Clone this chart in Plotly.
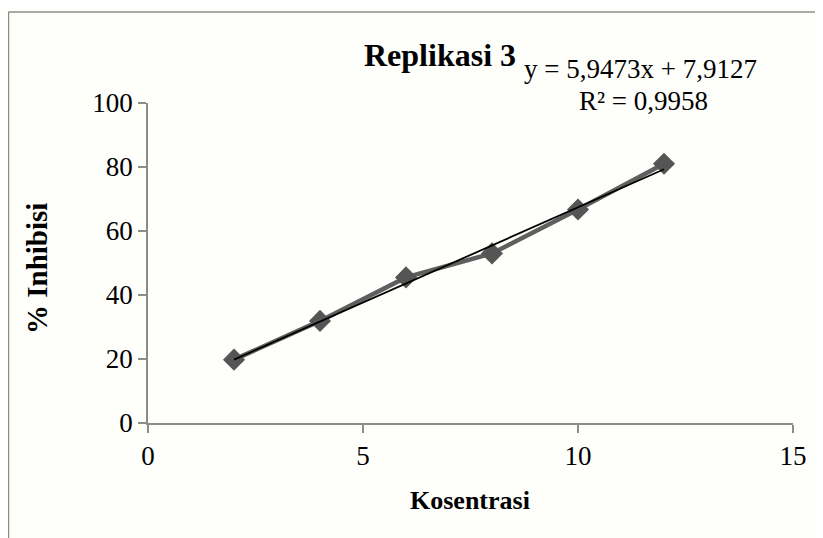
import plotly.graph_objects as go

# Data
kosentrasi = [2, 4, 6, 8, 10, 12]
inhibisi = [19.8, 31.9, 45.5, 53.0, 66.7, 81.0]
slope = 5.9473
intercept = 7.9127
r2_text = "R² = 0,9958"
eq_text = "y = 5,9473x + 7,9127"
x_ticks = [0, 5, 10, 15]
y_ticks = [0, 20, 40, 60, 80, 100]

trend_x = [min(kosentrasi), max(kosentrasi)]
trend_y = [slope * v + intercept for v in trend_x]

FONT = "Liberation Serif, Times New Roman, serif"
AXC = "#8c8c8c"

fig = go.Figure()
fig.add_trace(go.Scatter(
    x=kosentrasi, y=inhibisi, mode="lines+markers",
    line=dict(color="#5f5f5f", width=4.5),
    marker=dict(symbol="diamond", size=17, color="#555555"),
    showlegend=False, hoverinfo="skip"))
fig.add_trace(go.Scatter(
    x=trend_x, y=trend_y, mode="lines",
    line=dict(color="#000000", width=1.8),
    showlegend=False, hoverinfo="skip"))

OFF = 8  # page body margin
W, H = 823 - OFF, 538 - OFF
L, T = 148 - OFF, 103 - OFF
R = W - (793 - OFF)
B = H - (423 - OFF)
pw, ph = W - L - R, H - T - B

def px(xp):
    return (xp - OFF - L) / pw

def py(yp):
    return (H - B - (yp - OFF)) / ph

def ann(text, x, y, size, angle=0):
    return dict(text=text, x=px(x), y=py(y), xref="paper", yref="paper",
                xanchor="center", yanchor="middle", showarrow=False,
                textangle=angle, font=dict(size=size, family=FONT, color="#000"))

fig.update_layout(
    width=W, height=H,
    margin=dict(l=L, r=R, t=T, b=B),
    paper_bgcolor="#fefefb", plot_bgcolor="#fefefb",
    font=dict(family=FONT, color="#000000"),
    xaxis=dict(range=[0, 15], tickvals=x_ticks, ticks="outside", ticklen=8,
               tickcolor=AXC, tickwidth=1.5, showline=True, linecolor=AXC,
               linewidth=1.5, showgrid=False, zeroline=False,
               tickfont=dict(size=27, family=FONT, color="#000")),
    yaxis=dict(range=[0, 100], tickvals=y_ticks, ticks="outside", ticklen=8,
               tickcolor=AXC, tickwidth=1.5, showline=True, linecolor=AXC,
               linewidth=1.5, showgrid=False, zeroline=False,
               tickfont=dict(size=27, family=FONT, color="#000")),
    annotations=[
        ann("<b>Replikasi 3</b>", 440, 55, 32),
        ann(eq_text, 640, 69, 27),
        ann(r2_text, 643, 101, 27),
        ann("<b>Kosentrasi</b>", 470, 500, 26),
        ann("<b>% Inhibisi</b>", 37, 268, 29, -90),
    ],
    shapes=[
        dict(type="line", xref="paper", yref="paper", x0=px(8.5), x1=px(8.5),
             y0=py(12), y1=py(560), line=dict(color=AXC, width=1.5)),
        dict(type="line", xref="paper", yref="paper", x0=px(8.5), x1=px(840),
             y0=py(12), y1=py(12), line=dict(color=AXC, width=1.5)),
    ],
)

fig.write_html("out.html")
